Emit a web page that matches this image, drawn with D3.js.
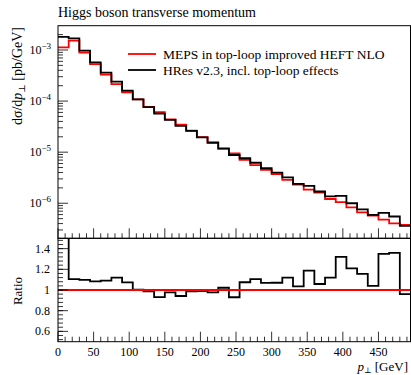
<!DOCTYPE html>
<html>
<head>
<meta charset="utf-8">
<script src="https://cdn.jsdelivr.net/npm/d3@7"></script>
<style>
  body { margin: 0; background: #fff; }
  svg { display: block; font-family: "Liberation Serif", "DejaVu Serif", serif; }
</style>
</head>
<body>
<div id="chart"></div>
<script>
// bin edges in GeV (15 GeV bins)
var binEdges = [0, 15, 30, 45, 60, 75, 90, 105, 120, 135, 150, 165, 180, 195, 210, 225, 240,
  255, 270, 285, 300, 315, 330, 345, 360, 375, 390, 405, 420, 435, 450, 465, 480, 495];

// HRes v2.3 (black)
var hres = [1.80e-3, 1.69e-3, 9.7e-4, 5.74e-4, 3.6e-4, 2.4e-4, 1.6e-4, 1.08e-4, 7.6e-5, 5.7e-5,
  4.27e-5, 3.26e-5, 2.6e-5, 1.95e-5, 1.53e-5, 1.19e-5, 8.8e-6, 7.6e-6, 6.2e-6, 4.84e-6,
  3.98e-6, 3.2e-6, 2.39e-6, 2.18e-6, 1.7e-6, 1.36e-6, 1.39e-6, 1.0e-6, 7.6e-7, 5.9e-7,
  6.5e-7, 5.5e-7, 3.6e-7];

// MEPS top-loop improved HEFT NLO (red)
var meps = [1.13e-3, 1.53e-3, 8.85e-4, 5.3e-4, 3.3e-4, 2.14e-4, 1.49e-4, 1.077e-4, 7.7e-5, 6.1e-5,
  4.37e-5, 3.46e-5, 2.63e-5, 1.97e-5, 1.56e-5, 1.16e-5, 9.5e-6, 7.07e-6, 5.6e-6, 4.53e-6,
  3.73e-6, 2.86e-6, 2.31e-6, 1.84e-6, 1.61e-6, 1.21e-6, 1.05e-6, 8.3e-7, 6.6e-7, 5.7e-7,
  4.8e-7, 4.05e-7, 3.75e-7];

// ratio HRes / MEPS
var ratio = [1.6, 1.106, 1.097, 1.084, 1.09, 1.12, 1.074, 1.003, 0.987, 0.932,
  0.978, 0.942, 0.987, 0.99, 0.978, 1.022, 0.93, 1.075, 1.106, 1.068,
  1.07, 1.12, 1.036, 1.187, 1.058, 1.12, 1.32, 1.21, 1.155, 1.04,
  1.35, 1.36, 0.96];

var xTicks = [0, 50, 100, 150, 200, 250, 300, 350, 400, 450];
var logTicks = [1e-3, 1e-4, 1e-5, 1e-6];
var logTickLabels = ["\u22123", "\u22124", "\u22125", "\u22126"];
var ratioTicks = [0.6, 0.8, 1, 1.2, 1.4];
var ratioTickLabels = ["0.6", "0.8", "1", "1.2", "1.4"];

var W = 411, H = 375;
var pLeft = 58, pRight = 410.5, pTop = 25.7, pMid = 238.3, pBottom = 341.7;

var svg = d3.select('#chart').append('svg').attr('width', W).attr('height', H);

var x = d3.scaleLinear().domain([0, 495]).range([pLeft, pRight]);
var y = d3.scaleLog().domain([2.06e-7, 2.99e-3]).range([pMid, pTop]);
var yr = d3.scaleLinear().domain([0.5, 1.5]).range([pBottom, pMid]);

var defs = svg.append('defs');
defs.append('clipPath').attr('id', 'clipMain').append('rect')
  .attr('x', pLeft).attr('y', pTop).attr('width', pRight - pLeft).attr('height', pMid - pTop);
defs.append('clipPath').attr('id', 'clipRatio').append('rect')
  .attr('x', pLeft).attr('y', pMid).attr('width', pRight - pLeft).attr('height', pBottom - pMid);

function stepPoints(vals) {
  var pts = vals.map(function (v, i) { return [binEdges[i], v]; });
  pts.push([binEdges[vals.length], vals[vals.length - 1]]);
  return pts;
}

var lineMain = d3.line().x(function (d) { return x(d[0]); }).y(function (d) { return y(d[1]); })
  .curve(d3.curveStepAfter);
var lineRatio = d3.line().x(function (d) { return x(d[0]); }).y(function (d) { return yr(d[1]); })
  .curve(d3.curveStepAfter);

// title
svg.append('text').attr('x', pLeft).attr('y', 17).attr('font-size', 14).text('Higgs boson transverse momentum');

// main histograms
var gMain = svg.append('g').attr('clip-path', 'url(#clipMain)');
gMain.append('path').attr('d', lineMain(stepPoints(meps)))
  .attr('fill', 'none').attr('stroke', '#ff0000').attr('stroke-width', 1.8);
gMain.append('path').attr('d', lineMain(stepPoints(hres)))
  .attr('fill', 'none').attr('stroke', '#000').attr('stroke-width', 1.8);

// ratio
var gRatio = svg.append('g').attr('clip-path', 'url(#clipRatio)');
gRatio.append('path').attr('d', lineRatio(stepPoints(ratio)))
  .attr('fill', 'none').attr('stroke', '#000').attr('stroke-width', 1.8);
gRatio.append('line').attr('x1', pLeft).attr('x2', pRight).attr('y1', yr(1)).attr('y2', yr(1))
  .attr('stroke', '#ff0000').attr('stroke-width', 1.8);

// frames
svg.append('rect').attr('x', pLeft).attr('y', pTop).attr('width', pRight - pLeft).attr('height', pMid - pTop)
  .attr('fill', 'none').attr('stroke', '#000').attr('stroke-width', 1);
svg.append('rect').attr('x', pLeft).attr('y', pMid).attr('width', pRight - pLeft).attr('height', pBottom - pMid)
  .attr('fill', 'none').attr('stroke', '#000').attr('stroke-width', 1);

var ticks = svg.append('g').attr('stroke', '#000').attr('stroke-width', 0.8);

// log y ticks
for (var e = -7; e <= -3; e++) {
  for (var k = 1; k <= 9; k++) {
    var v = k * Math.pow(10, e);
    if (v < y.domain()[0] || v > y.domain()[1]) continue;
    var len = k === 1 ? 10 : 5;
    ticks.append('line').attr('x1', pLeft).attr('x2', pLeft + len).attr('y1', y(v)).attr('y2', y(v));
  }
}
logTicks.forEach(function (v, i) {
  var t = svg.append('text').attr('x', 51).attr('y', y(v) + 4).attr('text-anchor', 'end').attr('font-size', 12);
  t.append('tspan').text('10');
  t.append('tspan').attr('dy', -5).attr('font-size', 9).text(logTickLabels[i]);
});

// x ticks on main bottom and ratio bottom
for (var g = 0; g <= 490; g += 10) {
  var major = g % 50 === 0;
  var l = major ? 10 : 5;
  ticks.append('line').attr('x1', x(g)).attr('x2', x(g)).attr('y1', pMid).attr('y2', pMid - l);
  ticks.append('line').attr('x1', x(g)).attr('x2', x(g)).attr('y1', pBottom).attr('y2', pBottom - l);
}
xTicks.forEach(function (v) {
  svg.append('text').attr('x', x(v)).attr('y', 356).attr('text-anchor', 'middle').attr('font-size', 12).text(v);
});

// ratio y ticks
d3.range(0.52, 1.5, 0.04).forEach(function (v) {
  ticks.append('line').attr('x1', pLeft).attr('x2', pLeft + 5).attr('y1', yr(v)).attr('y2', yr(v));
});
ratioTicks.forEach(function (v, i) {
  ticks.append('line').attr('x1', pLeft).attr('x2', pLeft + 10).attr('y1', yr(v)).attr('y2', yr(v));
  svg.append('text').attr('x', 50).attr('y', yr(v) + 4).attr('text-anchor', 'end').attr('font-size', 12)
    .text(ratioTickLabels[i]);
});

// axis labels
var yl = svg.append('text').attr('transform', 'translate(22,27) rotate(-90)')
  .attr('text-anchor', 'end').attr('font-size', 14);
yl.append('tspan').text('d\u03c3/d');
yl.append('tspan').attr('font-style', 'italic').text('p');
yl.append('tspan').attr('dy', 3).attr('font-size', 9).text('\u22a5');
yl.append('tspan').attr('dy', -3).text(' [pb/GeV]');

svg.append('text').attr('transform', 'translate(22,291) rotate(-90)')
  .attr('text-anchor', 'middle').attr('font-size', 13).text('Ratio');

var xl = svg.append('text').attr('x', 408).attr('y', 371).attr('text-anchor', 'end').attr('font-size', 13);
xl.append('tspan').attr('font-style', 'italic').text('p');
xl.append('tspan').attr('dy', 1.5).attr('font-size', 8).text('\u22a5');
xl.append('tspan').attr('dy', -1.5).text(' [GeV]');

// legend
var legend = [
  { label: 'MEPS in top-loop improved HEFT NLO', color: '#ff0000', y: 54 },
  { label: 'HRes v2.3, incl. top-loop effects', color: '#000', y: 70 }
];
legend.forEach(function (d) {
  svg.append('line').attr('x1', 128).attr('x2', 156).attr('y1', d.y).attr('y2', d.y)
    .attr('stroke', d.color).attr('stroke-width', 1.8);
  svg.append('text').attr('x', 163).attr('y', d.y + 4.5).attr('font-size', 13.5).text(d.label);
});
</script>
</body>
</html>
